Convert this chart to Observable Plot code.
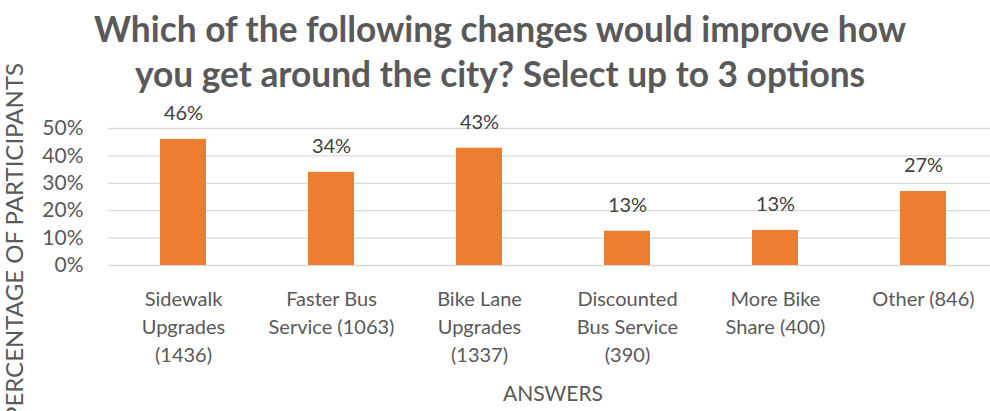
<!DOCTYPE html>
<html>
<head>
<meta charset="utf-8">
<script src="https://cdn.jsdelivr.net/npm/d3@7"></script>
<script src="https://cdn.jsdelivr.net/npm/@observablehq/plot@0.6"></script>
<style>
  html, body { margin: 0; padding: 0; background: #fff; }
  #wrap { position: relative; width: 990px; height: 411px; overflow: hidden; font-family: Lato, "Open Sans", sans-serif; }
  #title { position: absolute; left: 0; top: 6px; width: 1000px; text-align: center; font-weight: bold; font-size: 35.3px; line-height: 45px; color: #595959; }
  #ylab { position: absolute; left: 13px; top: 242px; transform: translate(-50%, -50%) rotate(-90deg); white-space: nowrap; font-size: 24px; color: #595959; }
  #xlab { position: absolute; left: 553px; top: 392px; transform: translate(-50%, -50%); font-size: 21px; color: #595959; }
  #chart { position: absolute; left: 0; top: 0; }
</style>
</head>
<body>
<div id="wrap">
  <div id="chart"></div>
  <div id="title">Which of the following changes would improve how<br>you get around the city? Select up to 3 options</div>
  <div id="ylab">PERCENTAGE OF PARTICIPANTS</div>
  <div id="xlab">ANSWERS</div>
</div>
<script>
const categories = [
  "Sidewalk\nUpgrades\n(1436)",
  "Faster Bus\nService (1063)",
  "Bike Lane\nUpgrades\n(1337)",
  "Discounted\nBus Service\n(390)",
  "More Bike\nShare (400)",
  "Other (846)"
];
const shares = [0.46, 0.34, 0.428, 0.125, 0.128, 0.27];
const valueLabels = ["46%", "34%", "43%", "13%", "13%", "27%"];
const yTicks = [0, 0.1, 0.2, 0.3, 0.4, 0.5];

const data = categories.map((c, i) => ({category: c, share: shares[i], label: valueLabels[i]}));

const chart = Plot.plot({
  width: 990,
  height: 411,
  marginLeft: 108,
  marginRight: 0,
  marginTop: 128,
  marginBottom: 146,
  style: {fontFamily: "Lato, 'Open Sans', sans-serif", background: "#fff"},
  x: {domain: categories, range: [108.4, 997.6], paddingInner: 0.686, paddingOuter: 0.343, label: null},
  y: {domain: [0, 0.5], label: null},
  marks: [
    Plot.ruleY(yTicks, {stroke: "#D9D9D9", strokeWidth: 1.3}),
    Plot.barY(data, {x: "category", y: "share", fill: "#ED7D31"}),
    Plot.text(data, {x: "category", y: "share", text: "label", dy: -26, fontSize: 20, fill: "#404040"}),
    Plot.axisY({ticks: yTicks, tickFormat: d => Math.round(d * 100) + "%", tickSize: 0, tickPadding: 25, fontSize: 21, color: "#595959", label: null}),
    Plot.axisX({tickSize: 0, tickPadding: 20, fontSize: 20, lineHeight: 1.42, color: "#595959", label: null, lineAnchor: "top"})
  ]
});
document.getElementById("chart").appendChild(chart);
</script>
</body>
</html>
